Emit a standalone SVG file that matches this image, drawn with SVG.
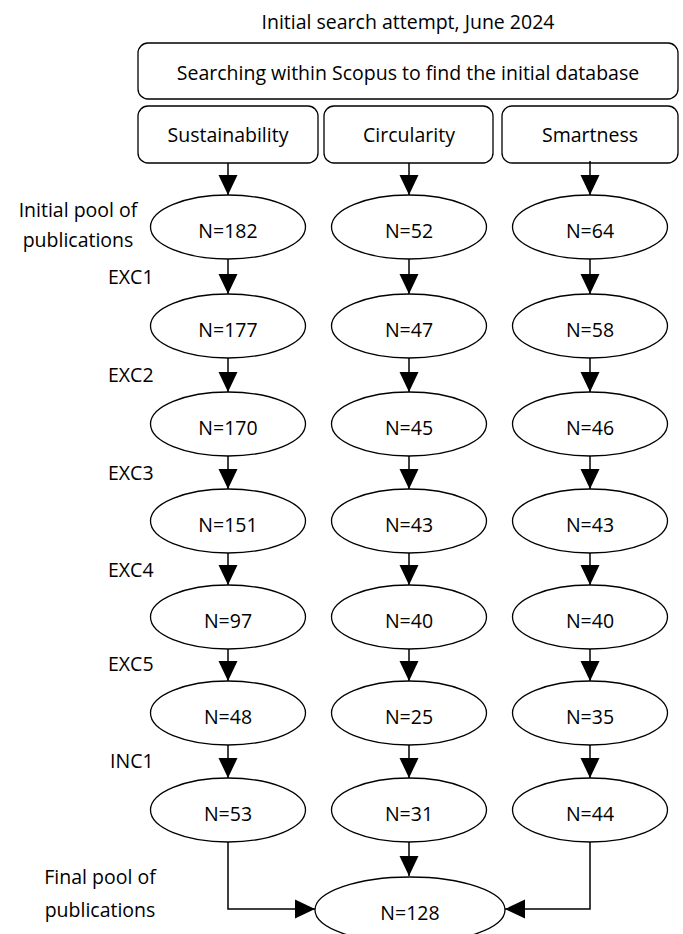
<svg xmlns="http://www.w3.org/2000/svg" width="683" height="934" viewBox="0 0 683 934">
<style>
text{font-family:"Open Sans","Noto Sans","Liberation Sans",sans-serif;font-size:19.5px;fill:#000}
.c{text-anchor:middle}
.box{fill:#fff;stroke:#000;stroke-width:1.3}
.el{fill:#fff;stroke:#000;stroke-width:1.3}
.ln{fill:none;stroke:#000;stroke-width:1.5}
</style>
<defs>
<marker id="ah" markerUnits="userSpaceOnUse" markerWidth="20" markerHeight="20" viewBox="0 0 20 20" refX="20" refY="10" orient="auto">
<path d="M0,0.5 L20,10 L0,19.5 Z" fill="#000"/>
</marker>
</defs>
<rect width="683" height="934" fill="#fff"/>
<text class="c" x="408" y="29">Initial search attempt, June 2024</text>
<g id="scopus"><rect class="box" x="138" y="43" width="540" height="56" rx="10"/><text class="c" x="408" y="80">Searching within Scopus to find the initial database</text></g>
<g id="sustainability"><rect class="box" x="138" y="106" width="180" height="57" rx="10"/><text class="c" x="228" y="142">Sustainability</text></g>
<g id="circularity"><rect class="box" x="324" y="106" width="169" height="57" rx="10"/><text class="c" x="409" y="142">Circularity</text></g>
<g id="smartness"><rect class="box" x="502" y="106" width="176" height="57" rx="10"/><text class="c" x="590" y="142">Smartness</text></g>

<g id="labels">
<text class="c" x="78" y="217">Initial pool of</text>
<text class="c" x="78" y="247">publications</text>
<text x="108" y="284">EXC1</text>
<text x="108" y="382">EXC2</text>
<text x="108" y="480">EXC3</text>
<text x="108" y="577">EXC4</text>
<text x="108" y="671">EXC5</text>
<text x="110" y="768">INC1</text>
<text class="c" x="100" y="884">Final pool of</text>
<text class="c" x="100" y="917">publications</text>
</g>

<g id="connectors">
<line class="ln" x1="228" y1="163" x2="228" y2="195" marker-end="url(#ah)"/>
<line class="ln" x1="409" y1="163" x2="409" y2="195" marker-end="url(#ah)"/>
<line class="ln" x1="590" y1="161" x2="590" y2="195" marker-end="url(#ah)"/>

<line class="ln" x1="228" y1="259" x2="228" y2="294" marker-end="url(#ah)"/>
<line class="ln" x1="409" y1="259" x2="409" y2="294" marker-end="url(#ah)"/>
<line class="ln" x1="590" y1="259" x2="590" y2="294" marker-end="url(#ah)"/>

<line class="ln" x1="228" y1="358" x2="228" y2="392" marker-end="url(#ah)"/>
<line class="ln" x1="409" y1="358" x2="409" y2="392" marker-end="url(#ah)"/>
<line class="ln" x1="590" y1="358" x2="590" y2="392" marker-end="url(#ah)"/>

<line class="ln" x1="228" y1="456" x2="228" y2="489" marker-end="url(#ah)"/>
<line class="ln" x1="409" y1="456" x2="409" y2="489" marker-end="url(#ah)"/>
<line class="ln" x1="590" y1="456" x2="590" y2="489" marker-end="url(#ah)"/>

<line class="ln" x1="228" y1="553" x2="228" y2="585" marker-end="url(#ah)"/>
<line class="ln" x1="409" y1="553" x2="409" y2="585" marker-end="url(#ah)"/>
<line class="ln" x1="590" y1="553" x2="590" y2="585" marker-end="url(#ah)"/>

<line class="ln" x1="228" y1="649" x2="228" y2="681" marker-end="url(#ah)"/>
<line class="ln" x1="409" y1="649" x2="409" y2="681" marker-end="url(#ah)"/>
<line class="ln" x1="590" y1="649" x2="590" y2="681" marker-end="url(#ah)"/>

<line class="ln" x1="228" y1="745" x2="228" y2="778" marker-end="url(#ah)"/>
<line class="ln" x1="409" y1="745" x2="409" y2="778" marker-end="url(#ah)"/>
<line class="ln" x1="590" y1="745" x2="590" y2="778" marker-end="url(#ah)"/>

<polyline class="ln" points="228,842 228,909 315,909" marker-end="url(#ah)"/>
<line class="ln" x1="409" y1="842" x2="409" y2="876" marker-end="url(#ah)"/>
<polyline class="ln" points="590,842 590,909 505,909" marker-end="url(#ah)"/>
</g>

<g id="s1"><ellipse class="el" cx="228" cy="227" rx="77.5" ry="32"/><text class="c" x="228" y="238">N=182</text></g>
<g id="c1"><ellipse class="el" cx="409" cy="227" rx="77.5" ry="32"/><text class="c" x="409" y="238">N=52</text></g>
<g id="m1"><ellipse class="el" cx="590" cy="227" rx="77.5" ry="32"/><text class="c" x="590" y="238">N=64</text></g>

<g id="s2"><ellipse class="el" cx="228" cy="326" rx="77.5" ry="32"/><text class="c" x="228" y="337">N=177</text></g>
<g id="c2"><ellipse class="el" cx="409" cy="326" rx="77.5" ry="32"/><text class="c" x="409" y="337">N=47</text></g>
<g id="m2"><ellipse class="el" cx="590" cy="326" rx="77.5" ry="32"/><text class="c" x="590" y="337">N=58</text></g>

<g id="s3"><ellipse class="el" cx="228" cy="424" rx="77.5" ry="32"/><text class="c" x="228" y="435">N=170</text></g>
<g id="c3"><ellipse class="el" cx="409" cy="424" rx="77.5" ry="32"/><text class="c" x="409" y="435">N=45</text></g>
<g id="m3"><ellipse class="el" cx="590" cy="424" rx="77.5" ry="32"/><text class="c" x="590" y="435">N=46</text></g>

<g id="s4"><ellipse class="el" cx="228" cy="521" rx="77.5" ry="32"/><text class="c" x="228" y="532">N=151</text></g>
<g id="c4"><ellipse class="el" cx="409" cy="521" rx="77.5" ry="32"/><text class="c" x="409" y="532">N=43</text></g>
<g id="m4"><ellipse class="el" cx="590" cy="521" rx="77.5" ry="32"/><text class="c" x="590" y="532">N=43</text></g>

<g id="s5"><ellipse class="el" cx="228" cy="617" rx="77.5" ry="32"/><text class="c" x="228" y="628">N=97</text></g>
<g id="c5"><ellipse class="el" cx="409" cy="617" rx="77.5" ry="32"/><text class="c" x="409" y="628">N=40</text></g>
<g id="m5"><ellipse class="el" cx="590" cy="617" rx="77.5" ry="32"/><text class="c" x="590" y="628">N=40</text></g>

<g id="s6"><ellipse class="el" cx="228" cy="713" rx="77.5" ry="32"/><text class="c" x="228" y="724">N=48</text></g>
<g id="c6"><ellipse class="el" cx="409" cy="713" rx="77.5" ry="32"/><text class="c" x="409" y="724">N=25</text></g>
<g id="m6"><ellipse class="el" cx="590" cy="713" rx="77.5" ry="32"/><text class="c" x="590" y="724">N=35</text></g>

<g id="s7"><ellipse class="el" cx="228" cy="810" rx="77.5" ry="32"/><text class="c" x="228" y="821">N=53</text></g>
<g id="c7"><ellipse class="el" cx="409" cy="810" rx="77.5" ry="32"/><text class="c" x="409" y="821">N=31</text></g>
<g id="m7"><ellipse class="el" cx="590" cy="810" rx="77.5" ry="32"/><text class="c" x="590" y="821">N=44</text></g>

<g id="final"><ellipse class="el" cx="410" cy="910" rx="95" ry="33"/><text class="c" x="410" y="920">N=128</text></g>
</svg>
